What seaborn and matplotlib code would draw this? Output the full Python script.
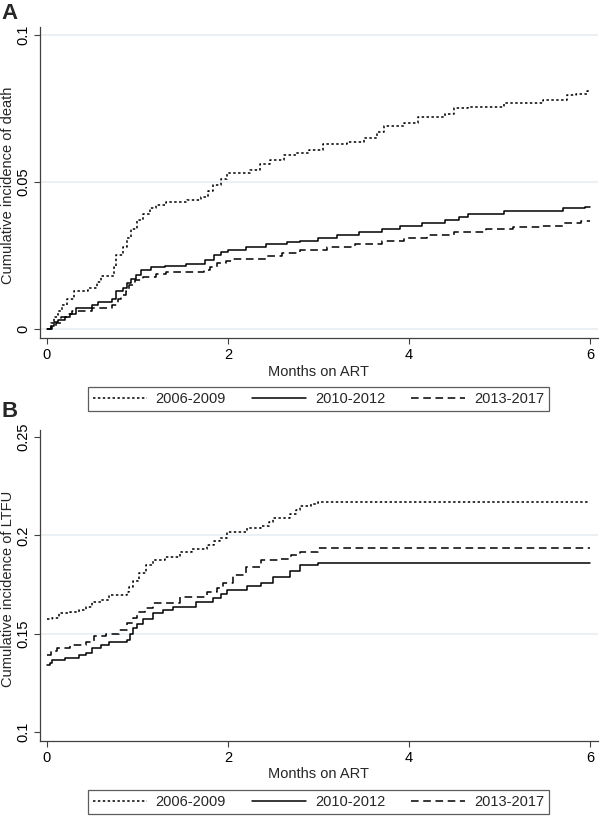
import pandas as pd
import matplotlib
matplotlib.use('Agg')
import matplotlib.pyplot as plt
import seaborn as sns

# cumulative incidence step points (months, value)
periods = ['2006-2009', '2010-2012', '2013-2017']

death_t_0609 = [0, 0.04, 0.08, 0.12, 0.17, 0.22, 0.30, 0.45, 0.55, 0.60, 0.74, 0.76, 0.84, 0.88, 0.93, 0.99,
                1.06, 1.14, 1.21, 1.32, 1.55, 1.70, 1.78, 1.84, 1.92, 1.99, 2.24, 2.35, 2.47, 2.62, 2.75, 2.90,
                3.05, 3.32, 3.50, 3.65, 3.72, 3.95, 4.10, 4.40, 4.50, 4.65, 5.05, 5.48, 5.75, 5.85, 5.97, 6.0]
death_y_0609 = [0, 0.002, 0.004, 0.006, 0.008, 0.010, 0.013, 0.014, 0.016, 0.018, 0.021, 0.025, 0.028, 0.031,
                0.034, 0.037, 0.039, 0.041, 0.042, 0.043, 0.044, 0.045, 0.047, 0.049, 0.051, 0.053, 0.054,
                0.056, 0.0575, 0.059, 0.060, 0.061, 0.063, 0.0636, 0.065, 0.067, 0.069, 0.070, 0.072, 0.073,
                0.075, 0.0755, 0.077, 0.078, 0.0795, 0.080, 0.081, 0.081]

death_t_1012 = [0, 0.05, 0.08, 0.12, 0.20, 0.26, 0.32, 0.50, 0.56, 0.72, 0.76, 0.84, 0.88, 0.93, 0.98, 1.04,
                1.15, 1.30, 1.54, 1.75, 1.85, 1.92, 2.00, 2.20, 2.42, 2.65, 2.80, 3.00, 3.20, 3.45, 3.70, 3.90,
                4.15, 4.40, 4.55, 4.65, 5.05, 5.70, 5.95, 6.0]
death_y_1012 = [0, 0.001, 0.0025, 0.003, 0.004, 0.005, 0.007, 0.008, 0.009, 0.010, 0.013, 0.014, 0.0156,
                0.017, 0.0185, 0.020, 0.021, 0.0215, 0.022, 0.0235, 0.025, 0.026, 0.027, 0.0277, 0.029,
                0.0295, 0.030, 0.031, 0.032, 0.033, 0.034, 0.035, 0.036, 0.037, 0.038, 0.039, 0.040, 0.041,
                0.0415, 0.0415]

death_t_1317 = [0, 0.06, 0.10, 0.16, 0.22, 0.28, 0.50, 0.72, 0.78, 0.82, 0.87, 0.91, 0.97, 1.06, 1.20, 1.32,
                1.73, 1.80, 1.88, 1.98, 2.06, 2.42, 2.60, 2.80, 3.10, 3.40, 3.70, 3.95, 4.20, 4.50, 4.85, 5.15,
                5.45, 5.70, 5.90, 6.0]
death_y_1317 = [0, 0.001, 0.002, 0.004, 0.005, 0.006, 0.007, 0.008, 0.010, 0.0115, 0.013, 0.015, 0.0165,
                0.0177, 0.0188, 0.0194, 0.020, 0.021, 0.0224, 0.023, 0.0238, 0.0248, 0.0258, 0.027, 0.028,
                0.029, 0.030, 0.031, 0.032, 0.033, 0.034, 0.0345, 0.035, 0.036, 0.0367, 0.0367]

ltfu_t_0609 = [0, 0.06, 0.13, 0.25, 0.35, 0.43, 0.50, 0.60, 0.69, 0.88, 0.91, 0.95, 1.02, 1.10, 1.17, 1.30,
               1.47, 1.60, 1.77, 1.85, 1.91, 1.99, 2.21, 2.36, 2.45, 2.50, 2.69, 2.75, 2.80, 2.92, 2.99, 6.0]
ltfu_y_0609 = [0.1574, 0.158, 0.1604, 0.161, 0.162, 0.1636, 0.166, 0.167, 0.1696, 0.171, 0.1737, 0.177,
               0.181, 0.185, 0.1875, 0.189, 0.1915, 0.193, 0.195, 0.197, 0.1986, 0.2017, 0.2037, 0.205,
               0.207, 0.2087, 0.211, 0.213, 0.2148, 0.216, 0.2168, 0.2168]

ltfu_t_1012 = [0, 0.03, 0.06, 0.20, 0.35, 0.43, 0.50, 0.60, 0.69, 0.88, 0.92, 0.95, 1.00, 1.06, 1.17, 1.28,
               1.39, 1.65, 1.84, 1.92, 1.99, 2.21, 2.36, 2.50, 2.69, 2.80, 2.99, 6.0]
ltfu_y_1012 = [0.134, 0.135, 0.1366, 0.1376, 0.139, 0.140, 0.1427, 0.144, 0.1457, 0.147, 0.150, 0.153,
               0.155, 0.1574, 0.1604, 0.162, 0.1636, 0.166, 0.168, 0.170, 0.172, 0.174, 0.176, 0.179,
               0.182, 0.185, 0.1859, 0.1859]

ltfu_t_1317 = [0, 0.05, 0.11, 0.25, 0.43, 0.52, 0.65, 0.80, 0.89, 0.95, 0.99, 1.08, 1.17, 1.47, 1.77, 1.88,
               1.95, 2.06, 2.20, 2.36, 2.58, 2.70, 2.80, 2.99, 6.0]
ltfu_y_1317 = [0.139, 0.141, 0.1427, 0.144, 0.1457, 0.149, 0.150, 0.152, 0.1555, 0.158, 0.161, 0.163,
               0.1655, 0.1686, 0.171, 0.173, 0.1757, 0.180, 0.184, 0.1875, 0.188, 0.190, 0.1915, 0.1934, 0.1934]

x_ticks = [0, 2, 4, 6]
death_ticks = [0, 0.05, 0.1]
death_labels = ['0', '0.05', '0.1']
ltfu_ticks = [0.1, 0.15, 0.2, 0.25]
ltfu_labels = ['0.1', '0.15', '0.2', '0.25']


def long_df(ts, ys):
    frames = []
    for p, t, y in zip(periods, ts, ys):
        frames.append(pd.DataFrame({'month': t, 'value': y, 'period': p}))
    return pd.concat(frames, ignore_index=True)


death = long_df([death_t_0609, death_t_1012, death_t_1317], [death_y_0609, death_y_1012, death_y_1317])
ltfu = long_df([ltfu_t_0609, ltfu_t_1012, ltfu_t_1317], [ltfu_y_0609, ltfu_y_1012, ltfu_y_1317])

sns.set_style('white')
plt.rcParams['font.family'] = ['Liberation Sans', 'DejaVu Sans']

line_dashes = {'2006-2009': (1.6, 1.6), '2010-2012': '', '2013-2017': (5, 3)}
palette = {p: 'black' for p in periods}
axis_col = '#404040'
grid_col = '#e6eef2'

fig = plt.figure(figsize=(6, 8.17), dpi=100)
ax_a = fig.add_axes([40 / 600, 1 - 338 / 817, 558 / 600, 311 / 817])
ax_b = fig.add_axes([40 / 600, 1 - 741 / 817, 558 / 600, 311 / 817])


def draw(ax, df, ticks, labels, ylim, grid, ylabel, legend_y):
    for g in grid:
        ax.axhline(g, color=grid_col, lw=1.2, zorder=0)
    sns.lineplot(data=df, x='month', y='value', hue='period', style='period', palette=palette,
                 dashes=line_dashes, drawstyle='steps-post', lw=1.1, ax=ax, legend=False,
                 estimator=None, sort=False)
    ax.set_xlim(-0.077, 6.09)
    ax.set_ylim(*ylim)
    ax.set_xticks(x_ticks)
    ax.set_xticklabels([str(v) for v in x_ticks])
    ax.set_yticks(ticks)
    ax.set_yticklabels(labels, rotation=90, va='center')
    ax.tick_params(axis='both', direction='out', length=4, width=0.8, color=axis_col,
                   labelsize=10.5, labelcolor='black', pad=3, left=True, bottom=True)
    for s in ['top', 'right']:
        ax.spines[s].set_visible(False)
    for s in ['left', 'bottom']:
        ax.spines[s].set_color(axis_col)
        ax.spines[s].set_linewidth(0.9)
    ax.set_xlabel('Months on ART', fontsize=10.5, labelpad=2)
    ax.set_ylabel(ylabel, fontsize=10.5, va='center')
    ax.yaxis.set_label_coords(-0.058, 0.49)
    ax.patch.set_alpha(0)

    handles = []
    for p in periods:
        h = plt.Line2D([], [], color='black', lw=1.1)
        if line_dashes[p]:
            h.set_dashes(line_dashes[p])
        handles.append(h)
    leg = fig.legend(handles, periods, loc='center', bbox_to_anchor=(318.5 / 600, legend_y), ncol=3,
                     frameon=True, fancybox=False, edgecolor='#333333', fontsize=10.5,
                     handlelength=3.7, handletextpad=0.6, columnspacing=1.8,
                     borderpad=0.35, borderaxespad=0)
    leg.get_frame().set_linewidth(0.9)


draw(ax_a, death, death_ticks, death_labels, (-0.0031, 0.1027), [0, 0.05, 0.1],
     'Cumulative incidence of death', 1 - 399 / 817)
draw(ax_b, ltfu, ltfu_ticks, ltfu_labels, (0.0954, 0.2536), [0.15, 0.2],
     'Cumulative incidence of LTFU', 1 - 802 / 817)

fig.text(0.003, 1 - 3 / 817, 'A', fontsize=16, fontweight='bold', va='top', ha='left')
fig.text(0.003, 1 - 401 / 817, 'B', fontsize=16, fontweight='bold', va='top', ha='left')

fig.savefig('out.png', dpi=100)
